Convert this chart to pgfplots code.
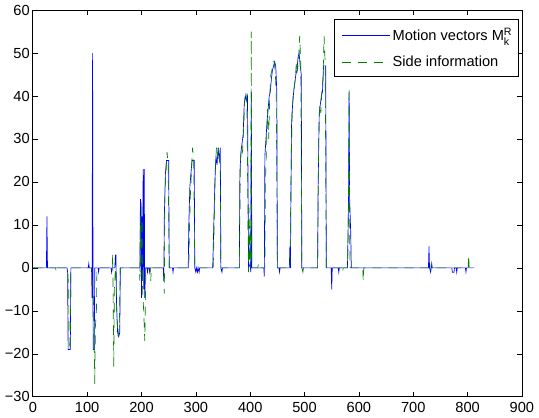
\documentclass[border=0pt]{standalone}
\usepackage{fontspec}
\setmainfont{Liberation Sans}
\usepackage{pgfplots}
\pgfplotsset{compat=1.18}

\definecolor{mblue}{rgb}{0,0,1}
\definecolor{mgreen}{rgb}{0,0.5,0}

\begin{document}
\fontsize{11}{13}\selectfont
\begin{tikzpicture}
\begin{axis}[
    scale only axis,
    width=368pt, height=291pt,
    xmin=0, xmax=900, ymin=-30, ymax=60,
    xtick={0,100,...,900},
    ytick={-30,-20,...,60},
    yticklabels={−30,−20,−10,0,10,20,30,40,50,60},
    /pgf/number format/assume math mode=true,
    tick align=inside,
    major tick length=3.8pt,
    tick style={black, line width=0.5pt},
    axis line style={line width=0.6pt},
    tick label style={font=\fontsize{11}{13}\selectfont},
    yticklabel style={xshift=1.5pt},
    xticklabel style={yshift=-0.5pt},
    legend style={
        at={(rel axis cs:0.994,0.976)}, anchor=north east,
        draw=black, line width=0.6pt, fill=white,
        font=\fontsize{11}{13}\selectfont,
        inner xsep=5pt, inner ysep=4pt,
        row sep=5.5pt,
    },
    legend cell align=left,
]
\addplot[draw=mblue, line width=0.5pt,
    legend image code/.code={\draw[mblue, line width=0.6pt] (0pt,0pt) -- (36pt,0pt);}]
coordinates {
(0,0)(25,0)(26,12)(27,0)
(63,0)(64,-1)(65,-19)(69,-19)(70,0)
(102,0)(103,1)(104,0)
(108,0)(109,-7)(110,50)(111,-19)(113,-19)(114,0)
(120,0)(121,-1)(122,0)
(144,0)(145,-1)(146,0)(151,0)(152,3)(153,3)(154,-8)(156,-15)(158,-16)(160,-15)(161,0)
(197,0)(198,16)(199,15)(200,-7)(201,12)(202,-3)(203,23)(204,-5)(205,23)(206,-7)(207,0)
(210,0)(211,-1)(212,0)(214,0)(215,-1)(216,0)
(240,0)(241,-3)(242,12)(244,22)(246,25)(250,25)(251,0)
(257,0)(258,-1)(259,0)
(286,0)(287,10)(289,19)(291,22)(293,25)(297,25)(298,0)(300,-1)(301,0)(303,-1)(304,0)(306,-1)(307,0)
(331,0)(333,10)(335,20)(337,26)(339,24)(341,28)(343,25)(345,28)(346,0)(348,-1)(349,0)
(380,0)(381,22)(383,27)(385,29)(387,31)(389,38)(391,40)(393,39)(395,40)(397,0)(400,1)(401,-1)(402,41)(403,0)
(425,0)(426,-2)(427,26)(429,30)(431,34)(433,37)(435,40)(437,41)(439,44)(441,46)(443,47)(445,48)(447,47)(449,41)(450,0)
(453,0)(454,-1)(455,0)
(472,0)(473,5)(474,0)(476,33)(478,38)(480,41)(482,43)(484,45)(486,46)(488,49)(490,50)(492,47)(494,45)(495,0)
(524,0)(525,19)(527,36)(529,38)(531,40)(533,41)(535,47)(539,47)(540,0)
(549,0)(550,-5)(551,0)(562,0)(563,-1)(564,0)
(579,0)(581,16)(582,41)(583,16)(585,8)(586,0)
(728,0)(729,5)(730,0)(732,-1)(734,1)(735,0)
(771,0)(772,-1)(775,-1)(776,0)(779,0)(780,-1)(781,0)(796,0)(797,-1)(798,0)(812,0)
};
\addlegendentry{Motion vectors M\rlap{\raisebox{0.75ex}{\fontsize{8}{9}\selectfont R}}\raisebox{-0.55ex}{\fontsize{8}{9}\selectfont k}}
\addplot[draw=mgreen, line width=0.5pt, dash pattern=on 7pt off 5pt,
    legend image code/.code={\draw[mgreen, line width=0.6pt, dash pattern=on 7pt off 5pt] (0pt,0pt) -- (36pt,0pt);}]
coordinates {
(0,0)(42,0)(43,-1)(44,0)
(64,0)(66,-5)(67,-19)(69,-19)(70,0)
(108,0)(110,-2)(112,-10)(114,-27)(115,-14)(117,-10)(118,0)
(146,0)(147,3)(148,-10)(149,-23)(150,-5)(152,0)(153,-3)(155,-12)(157,-16)(159,-14)(161,0)
(196,0)(197,-3)(198,12)(199,-2)(201,15)(202,-5)(204,-10)(206,-17)(208,0)
(216,0)(217,-3)(218,0)
(241,0)(242,-6)(243,18)(245,22)(247,27)(249,24)(251,0)
(287,0)(288,8)(290,17)(292,23)(294,28)(296,25)(298,0)
(332,0)(334,12)(336,24)(338,28)(340,26)(342,28)(345,22)(346,0)
(380,0)(382,25)(384,28)(386,27)(388,33)(390,39)(392,41)(394,38)(396,10)(397,-1)(398,14)(399,2)(400,10)(401,0)(402,55)(403,0)(414,0)(415,1)(416,0)
(427,0)(428,20)(430,28)(432,37)(434,30)(436,40)(438,45)(440,46)(442,48)(444,48)(446,46)(448,40)(450,0)
(473,0)(475,20)(477,36)(479,40)(481,42)(483,44)(485,48)(487,46)(489,48)(491,54)(493,48)(495,0)(497,-1)(498,0)
(524,0)(526,30)(528,38)(530,36)(532,42)(534,44)(536,54)(538,47)(540,0)
(569,0)(570,-1)(571,0)
(579,0)(580,5)(581,20)(582,42)(583,8)(584,0)
(607,0)(608,-3)(609,0)
(731,0)(732,-1)(733,1)(734,0)
(801,0)(802,3)(803,0)(812,0)
};
\addlegendentry{Side information}
\end{axis}
\end{tikzpicture}
\end{document}
